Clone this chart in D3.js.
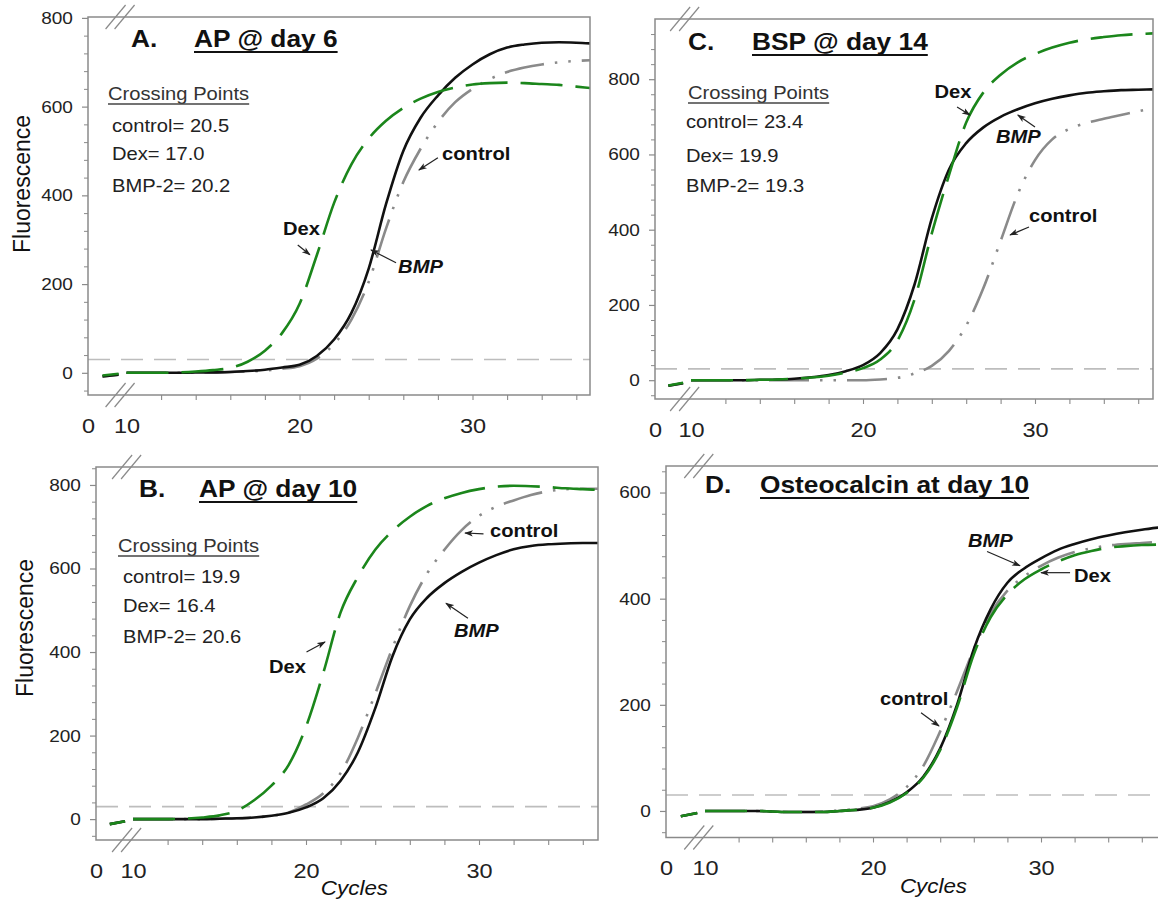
<!DOCTYPE html>
<html>
<head>
<meta charset="utf-8">
<script src="https://cdn.jsdelivr.net/npm/d3@7"></script>
<style>
  body { margin: 0; background: #fff; }
  svg { display: block; font-family: "Liberation Sans", Arial, Helvetica, sans-serif; }
</style>
</head>
<body>
<svg id="chart" width="1158" height="905"></svg>
<script>
// ---------------- data ----------------
// PCR cycle numbers: two readings before the axis break, then cycles 10..37
const cycles = [0.9, 1.9, 10, 11, 12, 13, 14, 15, 16, 17, 18, 19, 20, 21, 22, 23,
                24, 25, 26, 27, 28, 29, 30, 31, 32, 33, 34, 35, 36, 37];

// A. AP @ day 6
const apDay6Control = [-8, -4, 0, 0, 0, 0, 1, 1, 2, 3, 5, 9, 15, 32, 65, 120, 205, 325, 430, 505, 565, 610, 640, 662, 678, 688, 695, 700, 703, 705];
const apDay6Dex     = [-6, -2, 0, 0, 0, 1, 3, 6, 11, 25, 50, 90, 155, 265, 383, 470, 528, 568, 597, 618, 633, 643, 650, 653, 654, 653, 651, 649, 645, 641];
const apDay6Bmp     = [-8, -4, 0, 0, 0, 0, 1, 1, 2, 4, 7, 12, 18, 38, 75, 135, 235, 380, 500, 575, 625, 665, 695, 718, 733, 740, 744, 745, 744, 742];

// B. AP @ day 10
const apDay10Control = [-12, -5, 0, 0, 0, 0, 0, 1, 2, 4, 8, 16, 35, 62, 110, 195, 300, 410, 510, 588, 645, 692, 726, 748, 763, 776, 785, 790, 791, 791];
const apDay10Dex     = [-12, -5, 0, 0, 0, 1, 4, 9, 20, 45, 80, 130, 221, 350, 495, 580, 645, 690, 724, 750, 768, 781, 790, 796, 798, 797, 795, 792, 790, 788];
const apDay10Bmp     = [-12, -5, 0, 0, 0, 0, 0, 1, 2, 4, 8, 15, 28, 50, 92, 160, 265, 390, 478, 530, 565, 592, 614, 632, 646, 654, 658, 660, 661, 661];

// C. BSP @ day 14
const bspDay14Control = [-15, -8, 0, 0, 0, 0, 0, 0, 0, 0, 0, 0, 0, 2, 6, 18, 38, 78, 145, 245, 370, 495, 585, 640, 668, 684, 695, 705, 715, 724];
const bspDay14Dex     = [-14, -7, 0, 0, 0, 0, 1, 2, 4, 7, 12, 20, 32, 55, 105, 215, 390, 545, 685, 765, 812, 845, 867, 884, 897, 906, 912, 917, 920, 922];
const bspDay14Bmp     = [-15, -8, 0, 0, 0, 0, 1, 2, 4, 8, 14, 24, 40, 72, 135, 255, 430, 560, 630, 672, 700, 720, 736, 748, 757, 764, 768, 771, 772, 773];

// D. Osteocalcin at day 10
const ocDay10Control = [-10, -4, 0, 0, 0, 0, -1, -2, -2, -1, 1, 4, 9, 22, 45, 85, 150, 225, 305, 372, 415, 442, 462, 477, 488, 495, 500, 503, 505, 507];
const ocDay10Dex     = [-10, -4, 0, 0, 0, 0, -1, -2, -2, -2, 0, 2, 6, 16, 34, 63, 115, 195, 295, 365, 408, 436, 455, 470, 482, 490, 496, 499, 501, 502];
const ocDay10Bmp     = [-10, -4, 0, 0, 0, 0, -1, -2, -2, -2, 0, 2, 6, 17, 35, 65, 118, 200, 305, 380, 430, 457, 476, 492, 503, 512, 519, 525, 530, 534];

// crossing points (cycle at which fluorescence crosses the threshold)
const apDay6Crossing   = [["control", 20.5], ["Dex", 17.0], ["BMP-2", 20.2]];
const apDay10Crossing  = [["control", 19.9], ["Dex", 16.4], ["BMP-2", 20.6]];
const bspDay14Crossing = [["control", 23.4], ["Dex", 19.9], ["BMP-2", 19.3]];

const threshold = 30;

// tick labels
const xTickLabels = [0, 10, 20, 30];
const xMinorTicks = [12, 14, 16, 18, 20, 22, 24, 26, 28, 30, 32, 34, 36];
const yTicks800 = [0, 200, 400, 600, 800];
const yTicks600 = [0, 200, 400, 600];

// ---------------- layout ----------------
const SX = 1.12; // horizontal glyph stretch
const FONT = '"Liberation Sans", Arial, Helvetica, sans-serif';

const styles = {
  control: { stroke: "#8a8a8a", dash: "40,11,2.5,11,2.5,11" },
  dex:     { stroke: "#1b861b", dash: "42,13" },
  bmp:     { stroke: "#111111", dash: null }
};

const panels = [
  {
    letter: "A.", title: "AP @ day 6",
    box: { left: 88, top: 17, right: 590, bottom: 395 }, x10: 126.5, k: 17.3,
    yDomain: [-50, 802], yTicks: yTicks800,
    ylabel: { x: 30, y: 184 }, xlabel: null,
    letterPos: [43, 30], titleX: 106,
    crossing: apDay6Crossing, crossHead: [20, 83], crossX: 24, crossY: [115, 143, 175],
    series: { control: apDay6Control, dex: apDay6Dex, bmp: apDay6Bmp },
    notes: [
      { text: "control", c: 28.24, v: 480, from: [28.0, 485], to: [26.9, 457] },
      { text: "Dex", c: 19.05, v: 311, from: [19.9, 288], to: [20.6, 266] },
      { text: "BMP", italic: true, c: 25.7, v: 225, from: [25.58, 248], to: [24.13, 277] }
    ]
  },
  {
    letter: "C.", title: "BSP @ day 14",
    box: { left: 655, top: 19, right: 1153, bottom: 399 }, x10: 691, k: 17.2,
    yDomain: [-50, 960], yTicks: yTicks800,
    ylabel: null, xlabel: null,
    letterPos: [33, 31], titleX: 97,
    crossing: bspDay14Crossing, crossHead: [33, 80], crossX: 31, crossY: [109, 143, 173],
    series: { control: bspDay14Control, dex: bspDay14Dex, bmp: bspDay14Bmp },
    notes: [
      { text: "Dex", c: 24.16, v: 750, from: [25.47, 726], to: [26.22, 705] },
      { text: "BMP", italic: true, c: 27.73, v: 630, from: [30.0, 673], to: [29.0, 705] },
      { text: "control", c: 29.65, v: 420, from: [29.65, 407], to: [28.55, 386] }
    ]
  },
  {
    letter: "B.", title: "AP @ day 10",
    box: { left: 96, top: 467, right: 598, bottom: 840 }, x10: 133, k: 17.3,
    yDomain: [-50, 843], yTicks: yTicks800,
    ylabel: { x: 33, y: 628 }, xlabel: 22.8,
    letterPos: [43, 30], titleX: 103,
    crossing: apDay10Crossing, crossHead: [22, 85], crossX: 27, crossY: [116, 145, 176],
    series: { control: apDay10Control, dex: apDay10Dex, bmp: apDay10Bmp },
    notes: [
      { text: "control", c: 30.64, v: 675, from: [30.26, 683], to: [29.19, 685] },
      { text: "BMP", italic: true, c: 28.55, v: 436, from: [29.36, 481], to: [28.09, 517] },
      { text: "Dex", c: 17.86, v: 350, from: [20.03, 400], to: [21.1, 424] }
    ]
  },
  {
    letter: "D.", title: "Osteocalcin at day 10",
    box: { left: 666, top: 466, right: 1162, bottom: 837.5 }, x10: 705, k: 16.8,
    yDomain: [-50, 650], yTicks: yTicks600,
    ylabel: null, xlabel: 23.6,
    letterPos: [39, 27], titleX: 94,
    crossing: null,
    series: { control: ocDay10Control, dex: ocDay10Dex, bmp: ocDay10Bmp },
    notes: [
      { text: "BMP", italic: true, c: 25.65, v: 498, from: [26.79, 489], to: [28.75, 462] },
      { text: "Dex", c: 31.96, v: 432, from: [31.73, 449], to: [30.0, 449] },
      { text: "control", c: 20.42, v: 200, from: [22.86, 185], to: [23.93, 160] }
    ]
  }
];

// ---------------- drawing ----------------
const svg = d3.select("#chart");

svg.append("defs").append("marker")
  .attr("id", "arrowhead")
  .attr("viewBox", "0 0 10 8")
  .attr("refX", 9).attr("refY", 4)
  .attr("markerWidth", 9).attr("markerHeight", 7)
  .attr("markerUnits", "userSpaceOnUse")
  .attr("orient", "auto")
  .append("path")
  .attr("d", "M0,0.5 L10,4 L0,7.5 L2.5,4 Z")
  .attr("fill", "#222");

function addText(g, x, y, str, o) {
  return g.append("text")
    .attr("transform", `translate(${x},${y}) scale(${SX},1)`)
    .attr("text-anchor", o.anchor || "start")
    .attr("font-family", FONT)
    .attr("font-size", o.size)
    .attr("font-weight", o.weight || "normal")
    .attr("font-style", o.style || "normal")
    .attr("fill", o.fill || "#111")
    .text(str);
}

function underline(g, textSel, x, y, color, width) {
  const w = textSel.node().getComputedTextLength() * SX;
  g.append("line")
    .attr("x1", x).attr("x2", x + w)
    .attr("y1", y).attr("y2", y)
    .attr("stroke", color).attr("stroke-width", width);
}

panels.forEach((p, pi) => {
  const b = p.box;
  const g = svg.append("g");

  // broken x scale: cycles 0..1.9 before the break, 9.6..end after it
  const xb = p.x10 - 0.4 * p.k;
  const xEnd = 10 + (b.right - p.x10) / p.k;
  const x = d3.scaleLinear()
    .domain([0, 1.9, 9.6, xEnd])
    .range([b.left, xb - 1, xb, b.right]);
  const y = d3.scaleLinear().domain(p.yDomain).range([b.bottom, b.top]);

  // clip region
  const clipId = "clip" + pi;
  g.append("clipPath").attr("id", clipId).append("rect")
    .attr("x", b.left).attr("y", b.top)
    .attr("width", b.right - b.left).attr("height", b.bottom - b.top);

  // threshold line
  g.append("line")
    .attr("x1", b.left).attr("x2", b.right)
    .attr("y1", y(threshold)).attr("y2", y(threshold))
    .attr("stroke", "#bdbdbd").attr("stroke-width", 1.6)
    .attr("stroke-dasharray", "22,11")
    .attr("clip-path", `url(#${clipId})`);

  // curves
  const line = d3.line()
    .x(d => x(d.c)).y(d => y(d.v))
    .curve(d3.curveMonotoneX);

  ["control", "bmp", "dex"].forEach(key => {
    const vals = p.series[key];
    const pts = cycles.map((c, i) => ({ c, v: vals[i] }));
    const segments = [pts.filter(d => d.c < 5), pts.filter(d => d.c >= 5)];
    segments.forEach(seg => {
      g.append("path")
        .attr("d", line(seg))
        .attr("fill", "none")
        .attr("stroke", styles[key].stroke)
        .attr("stroke-width", 2.6)
        .attr("stroke-dasharray", styles[key].dash)
        .attr("clip-path", `url(#${clipId})`);
    });
  });

  // frame
  g.append("rect")
    .attr("x", b.left).attr("y", b.top)
    .attr("width", b.right - b.left).attr("height", b.bottom - b.top)
    .attr("fill", "none").attr("stroke", "#8a8a8a").attr("stroke-width", 1.5);

  // y axis: minor and major ticks
  const yMinor = d3.range(-40, p.yDomain[1], 40).filter(v => v % 200 !== 0);
  g.append("g").attr("transform", `translate(${b.left},0)`)
    .call(d3.axisLeft(y).tickValues(yMinor).tickSize(4).tickFormat(""))
    .call(s => s.select(".domain").remove())
    .call(s => s.selectAll("line").attr("stroke", "#8a8a8a").attr("stroke-width", 1));
  g.append("g").attr("transform", `translate(${b.left},0)`)
    .call(d3.axisLeft(y).tickValues(p.yTicks).tickSize(6).tickPadding(7.5).tickFormat(d3.format("d")))
    .call(s => s.select(".domain").remove())
    .call(s => s.selectAll("line").attr("stroke", "#8a8a8a").attr("stroke-width", 1.2))
    .call(s => s.selectAll("text")
      .attr("font-family", FONT).attr("font-size", 17).attr("fill", "#222")
      .attr("transform", `scale(${SX},1)`));

  // x axis: minor ticks and labels
  g.append("g").attr("transform", `translate(0,${b.bottom})`)
    .call(d3.axisBottom(x).tickValues(xMinorTicks).tickSize(5).tickFormat(""))
    .call(s => s.select(".domain").remove())
    .call(s => s.selectAll("line").attr("stroke", "#8a8a8a").attr("stroke-width", 1.1));
  g.append("g").attr("transform", `translate(0,${b.bottom})`)
    .call(d3.axisBottom(x).tickValues(xTickLabels).tickSize(0).tickPadding(23).tickFormat(d3.format("d")))
    .call(s => s.select(".domain").remove())
    .call(s => s.selectAll("text")
      .attr("font-family", FONT).attr("font-size", 21).attr("fill", "#222")
      .attr("transform", `scale(${SX},1)`));

  // axis break marks on top and bottom edges
  [b.top, b.bottom].forEach(yy => {
    [xb - 4, xb + 5].forEach(xc => {
      g.append("line")
        .attr("x1", xc - 10).attr("y1", yy + 12)
        .attr("x2", xc + 10).attr("y2", yy - 12)
        .attr("stroke", "#8a8a8a").attr("stroke-width", 1.2);
    });
  });

  // panel letter and underlined title
  addText(g, b.left + p.letterPos[0], b.top + p.letterPos[1], p.letter, { size: 23.5, weight: "bold" });
  const tt = addText(g, b.left + p.titleX, b.top + p.letterPos[1], p.title, { size: 23.5, weight: "bold" });
  underline(g, tt, b.left + p.titleX, b.top + p.letterPos[1] + 5, "#111", 1.8);

  // crossing points block
  if (p.crossing) {
    const hx = b.left + p.crossHead[0], hy = b.top + p.crossHead[1];
    const head = addText(g, hx, hy, "Crossing Points", { size: 18, fill: "#333" });
    underline(g, head, hx, hy + 4, "#444", 1.3);
    p.crossing.forEach((row, i) => {
      addText(g, b.left + p.crossX, b.top + p.crossY[i], `${row[0]}= ${row[1].toFixed(1)}`, { size: 18, fill: "#222" });
    });
  }

  // curve annotations
  p.notes.forEach(n => {
    g.append("line")
      .attr("x1", x(n.from[0])).attr("y1", y(n.from[1]))
      .attr("x2", x(n.to[0])).attr("y2", y(n.to[1]))
      .attr("stroke", "#222").attr("stroke-width", 1.2)
      .attr("marker-end", "url(#arrowhead)");
    addText(g, x(n.c), y(n.v), n.text, { size: 18, weight: "bold", style: n.italic ? "italic" : "normal" });
  });

  // axis titles
  if (p.ylabel) {
    g.append("text")
      .attr("transform", `translate(${p.ylabel.x},${p.ylabel.y}) rotate(-90)`)
      .attr("text-anchor", "middle")
      .attr("font-family", FONT).attr("font-size", 23).attr("fill", "#111")
      .text("Fluorescence");
  }
  if (p.xlabel) {
    addText(g, x(p.xlabel), b.bottom + 55, "Cycles", { size: 20, style: "italic", anchor: "middle" });
  }
});
</script>
</body>
</html>
